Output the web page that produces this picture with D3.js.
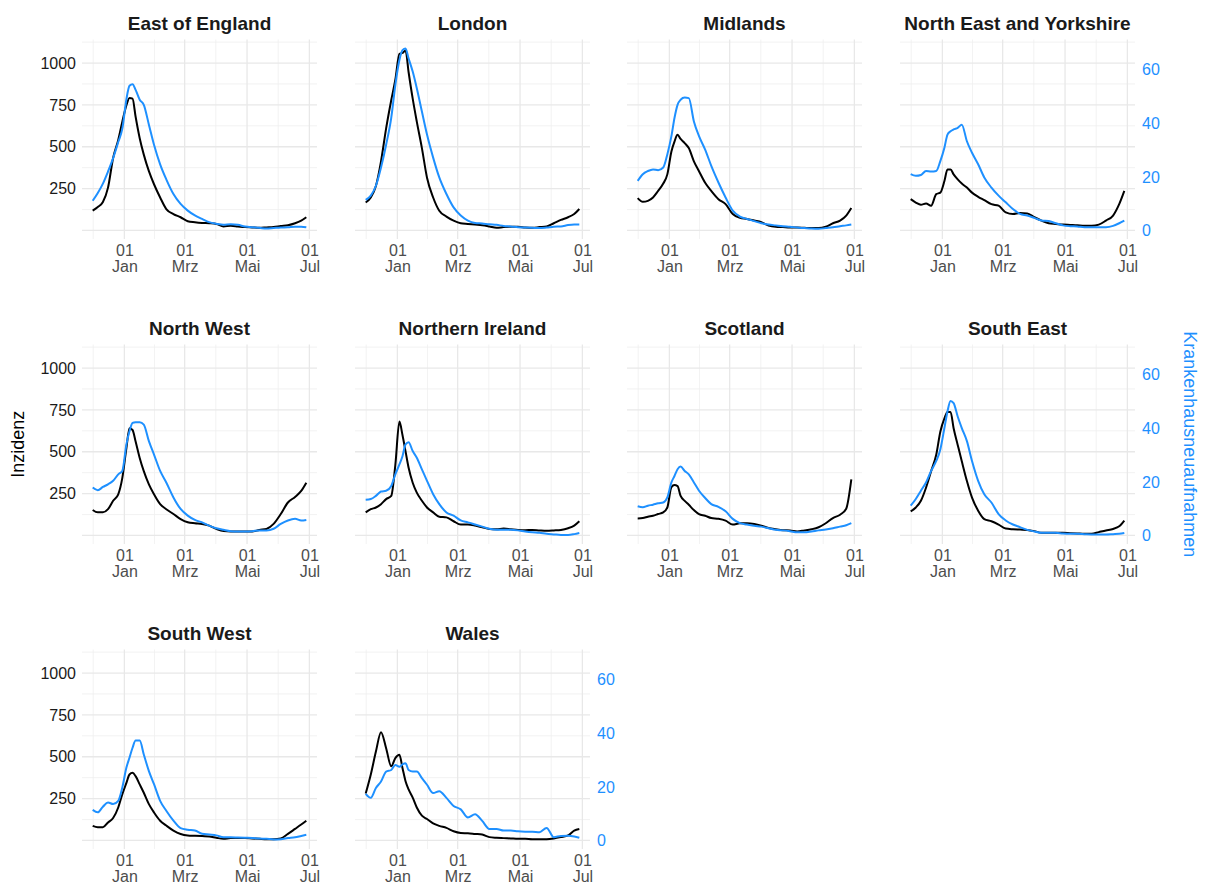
<!DOCTYPE html>
<html><head><meta charset="utf-8">
<script src="https://cdn.jsdelivr.net/npm/d3@7"></script>
<style>
body{margin:0;background:#fff;}
svg{display:block;font-family:"Liberation Sans",Arial,Helvetica,sans-serif;}
</style>
</head><body>
<svg id="chart" width="1205" height="884"></svg>
<script>
// ---------- DATA ----------
const regions = ["East of England","London","Midlands","North East and Yorkshire","North West","Northern Ireland","Scotland","South East","South West","Wales"];
const dates = ["2020-12-01","2020-12-06","2020-12-11","2020-12-16","2020-12-21","2020-12-26","2020-12-30","2021-01-03","2021-01-06","2021-01-09","2021-01-12","2021-01-16","2021-01-20","2021-01-25","2021-01-30","2021-02-05","2021-02-11","2021-02-18","2021-02-25","2021-03-04","2021-03-11","2021-03-18","2021-03-25","2021-04-01","2021-04-08","2021-04-15","2021-04-22","2021-04-29","2021-05-06","2021-05-13","2021-05-20","2021-05-27","2021-06-03","2021-06-10","2021-06-17","2021-06-23","2021-06-28"];

// Inzidenz (left axis)
const incEastOfEngland = [118,140,170,256,433,541,650,748,791,787,679,551,453,354,276,197,128,98,79,55,49,45,43,39,24,28,24,20,18,16,18,20,26,31,43,59,79];
const incLondon        = [167,197,266,413,610,778,900,1055,1060,1075,945,787,650,492,315,197,118,83,59,43,39,35,31,24,16,20,22,22,18,16,20,24,43,63,79,98,128];
const incMidlands      = [193,171,177,197,236,280,335,472,531,571,547,522,492,413,354,285,236,187,157,98,75,69,59,49,30,22,20,18,18,16,14,14,22,43,59,89,134];
const incNorthEastYork = [187,167,154,161,148,217,226,295,364,364,335,305,280,256,226,201,181,157,148,108,98,104,102,79,59,43,39,35,33,31,28,28,35,59,89,157,236];
const incNorthWest     = [152,138,138,157,207,246,344,522,640,630,561,463,384,305,246,187,157,128,98,79,73,69,59,39,26,24,24,24,24,33,39,69,128,197,230,266,315];
const incNorthIreland  = [138,157,167,187,217,236,420,680,600,502,404,315,256,207,167,138,112,108,85,65,65,59,49,39,37,41,37,33,31,33,30,28,30,33,43,59,85];
const incScotland      = [102,104,112,118,128,138,167,289,301,295,236,207,183,152,128,118,104,100,89,65,73,73,69,59,45,37,31,30,24,30,37,49,73,104,124,160,335];
const incSouthEast     = [144,167,207,285,384,482,620,699,738,738,640,541,443,325,226,148,98,85,65,41,37,35,33,26,16,16,16,16,14,12,10,10,20,30,39,55,89];
const incSouthWest     = [87,79,79,108,134,197,276,344,394,404,384,335,285,217,167,118,89,59,39,30,28,26,24,16,10,14,14,14,12,10,8,8,12,39,69,95,118];
const incWales         = [280,394,531,646,551,443,492,512,433,354,305,256,197,148,128,102,87,75,55,45,43,39,35,20,16,14,12,10,10,8,8,8,12,20,30,59,69];

// Krankenhausneuaufnahmen (right axis)
const hospEastOfEngland = [11.1,14,17.5,22,27,33,38,49,54,54.6,52.5,48.8,46.9,39.5,32,24.7,19.1,13.6,9.9,7.4,5.6,4.3,3.1,2.5,2.1,2.3,2.1,1.5,1.2,1.0,0.7,0.9,1.1,1.2,1.4,1.4,1.2];
const hospLondon        = [11.4,13,16.7,23.5,32,42,54.3,63.6,67.3,67.9,64.2,59.3,53.1,44.4,35.8,27.2,19.8,13.6,8.6,5.6,3.7,2.8,2.6,2.3,2.1,1.7,1.5,1.2,1.1,1.0,0.9,1.1,1.4,1.5,2.0,2.2,2.2];
const hospMidlands      = [18.5,21,22.2,22.8,22.5,23.5,28.4,35.2,42,46.9,48.8,49.6,49.4,40.7,35.2,30.2,24.1,17.9,12.3,7.4,5.2,4.3,3.5,2.7,2.2,1.9,1.6,1.4,1.1,0.9,0.7,0.6,0.9,1.2,1.6,1.9,2.2];
const hospNorthEastYork = [21,20.4,20.7,22.2,22,22.2,25.9,30.9,35.8,37,37.7,38.3,39.5,33.3,29,24.7,19.8,16,13,10.5,8,6.2,5.6,4.7,3.7,3.5,2.7,1.9,1.6,1.5,1.2,1.2,1.2,1.2,1.7,2.7,3.7];
const hospNorthWest     = [17.9,16.9,18.1,19.1,20.4,22.8,24.1,34,38.9,42,42.3,42.3,41.4,35.2,30.2,24.1,19.8,14.2,9.9,7.4,5.8,4.9,3.7,2.7,2.1,1.6,1.5,1.5,1.6,1.9,1.9,2.5,4.3,5.6,6.2,5.6,5.8];
const hospNorthIreland  = [13.3,13.6,14.8,16.4,16.7,18.5,22.8,26.5,29.6,34,34.8,31.5,29,24.7,20.4,15.4,11.7,8.6,7.4,5.6,4.9,4.1,3.3,2.5,2.1,2.1,2.1,1.9,1.5,1.2,1.0,0.6,0.4,0.2,0.2,0.5,0.9];
const hospScotland      = [10.9,10.5,11.1,11.5,12,12.3,14.2,19.8,22.2,24.7,25.7,24.1,22.8,19.8,16.7,14,11.7,10.7,9,6.2,4.6,4.1,3.6,3.3,2.7,2.1,1.9,1.6,1.2,1.2,1.5,1.9,2.2,2.7,3.3,3.8,4.6];
const hospSouthEast     = [11.1,13.6,16.7,19.8,24.1,27.8,32.1,40.1,46.3,50.2,49.4,44.4,40.1,35.2,27.8,20.4,15.4,12.3,8,5.6,4.1,3.1,2.1,1.5,1.0,1.0,1.0,0.7,0.6,0.6,0.5,0.4,0.4,0.4,0.5,0.6,0.9];
const hospSouthWest     = [11.4,10.5,12.6,14.2,13.6,14.8,19.8,27.2,30.9,34.6,37.3,37.3,32.1,25.9,21,14.8,11.1,7.4,4.6,4,3.7,2.5,2.2,1.9,1.2,1.2,1.1,1.0,0.9,0.7,0.6,0.4,0.5,0.9,1.2,1.7,2.1];
const hospWales         = [17.4,15.9,19.6,22,25.7,26.3,28.2,27.5,28.4,28.8,26.3,25.7,25.7,23.3,20.8,17.7,18.4,15.9,12.9,11.6,8.6,9.8,7.3,4.3,4.3,3.7,3.7,3.4,3.3,3.3,3.1,4.7,1.2,1.7,1.8,1.5,1.0];

const leftTicks  = [250, 500, 750, 1000];
const rightTicks = [0, 20, 40, 60];
const xBreaks    = ["2020-11-01","2021-01-01","2021-03-01","2021-05-01","2021-07-01"];
const monthsDE   = ["Jan","Feb","Mrz","Apr","Mai","Jun","Jul","Aug","Sep","Okt","Nov","Dez"];
const secFactor  = 16;

// ---------- TABLE ----------
const incidence = [incEastOfEngland,incLondon,incMidlands,incNorthEastYork,incNorthWest,incNorthIreland,incScotland,incSouthEast,incSouthWest,incWales];
const hospital  = [hospEastOfEngland,hospLondon,hospMidlands,hospNorthEastYork,hospNorthWest,hospNorthIreland,hospScotland,hospSouthEast,hospSouthWest,hospWales];

// ---------- LAYOUT ----------
const colX = [82, 355, 627, 900];
const rowY = [39.5, 344.5, 649.5];
const pw = 235, ph = 199.5;
const blue = "#1E90FF";

const parse = d3.timeParse("%Y-%m-%d");
const dts = dates.map(parse);
const span = dts[dts.length-1] - dts[0];
const x = d3.scaleTime()
  .domain([new Date(+dts[0] - 0.05*span), new Date(+dts[dts.length-1] + 0.05*span)])
  .range([0, pw]);

const allVals = incidence.flat().concat(hospital.flat().map(v => v*secFactor));
const ext = d3.extent(allVals);
const pad = (ext[1]-ext[0]) * 0.05;
const y = d3.scaleLinear().domain([ext[0]-pad, ext[1]+pad]).range([ph, 0]);
const y2 = d3.scaleLinear().domain(y.domain().map(v => v/secFactor)).range([ph, 0]);

const brk = xBreaks.map(parse);
const majorX = brk.slice(1);
const minorX = d3.pairs(brk).map(([a,b]) => new Date((+a + +b)/2));
const majorY = [0, 250, 500, 750, 1000];
const minorY = [125, 375, 625, 875, 1125].filter(v => v <= y.domain()[1]);

const svg = d3.select("#chart");
svg.append("rect").attr("width",1205).attr("height",884).attr("fill","#fff");

const lineInc = d3.line().x((d,i) => x(dts[i])).y(d => y(d)).curve(d3.curveMonotoneX);
const lineHosp = d3.line().x((d,i) => x(dts[i])).y(d => y2(d)).curve(d3.curveMonotoneX);

const lastInRow = [3, 7, 9];
const FONT = "Liberation Sans, Arial, sans-serif";

regions.forEach((name, i) => {
  const col = i % 4, row = Math.floor(i/4);
  const g = svg.append("g").attr("transform", `translate(${colX[col]},${rowY[row]})`);

  // grid
  const grid = g.append("g");
  grid.selectAll(".hmin").data(minorY).join("line")
    .attr("x1",0).attr("x2",pw).attr("y1",d=>y(d)).attr("y2",d=>y(d))
    .attr("stroke","#efefef").attr("stroke-width",0.8);
  grid.selectAll(".vmin").data(minorX).join("line")
    .attr("y1",0).attr("y2",ph).attr("x1",d=>x(d)).attr("x2",d=>x(d))
    .attr("stroke","#efefef").attr("stroke-width",0.8);
  grid.selectAll(".hmaj").data(majorY).join("line")
    .attr("x1",0).attr("x2",pw).attr("y1",d=>y(d)).attr("y2",d=>y(d))
    .attr("stroke","#e8e8e8").attr("stroke-width",1.3);
  grid.selectAll(".vmaj").data(majorX).join("line")
    .attr("y1",0).attr("y2",ph).attr("x1",d=>x(d)).attr("x2",d=>x(d))
    .attr("stroke","#e8e8e8").attr("stroke-width",1.3);

  // lines
  g.append("path").attr("d", lineInc(incidence[i]))
    .attr("fill","none").attr("stroke","#000").attr("stroke-width",2).attr("stroke-linejoin","round");
  g.append("path").attr("d", lineHosp(hospital[i]))
    .attr("fill","none").attr("stroke",blue).attr("stroke-width",2).attr("stroke-linejoin","round");

  // title
  g.append("text").attr("x", pw/2).attr("y", -10).attr("text-anchor","middle")
    .attr("font-size",19).attr("font-weight","bold").attr("fill","#1a1a1a").text(name);

  // x axis
  const fmtDay = d3.timeFormat("%d");
  const xa = g.append("g").attr("transform",`translate(0,${ph})`)
    .call(d3.axisBottom(x).tickValues(majorX).tickSize(0).tickFormat(fmtDay));
  xa.select(".domain").remove();
  xa.selectAll(".tick text").each(function(d){
    const t = d3.select(this);
    t.text(null).attr("dy",null).attr("y",null)
      .attr("fill","#4d4d4d").attr("font-size",16).attr("font-family",FONT);
    t.append("tspan").attr("x",0).attr("y",17).text(fmtDay(d));
    t.append("tspan").attr("x",0).attr("y",33).text(monthsDE[d.getMonth()]);
  });

  // left axis
  if (col === 0) {
    const ya = g.append("g").call(d3.axisLeft(y).tickValues(leftTicks).tickSize(0).tickPadding(6).tickFormat(d3.format("d")));
    ya.select(".domain").remove();
    ya.selectAll(".tick text").attr("fill","#1a1a1a").attr("font-size",16).attr("font-family",FONT);
  }
  // right axis
  if (lastInRow.includes(i)) {
    const ra = g.append("g").attr("transform",`translate(${pw},0)`)
      .call(d3.axisRight(y2).tickValues(rightTicks).tickSize(0).tickPadding(7).tickFormat(d3.format("d")));
    ra.select(".domain").remove();
    ra.selectAll(".tick text").attr("fill",blue).attr("font-size",16).attr("font-family",FONT);
  }
});

// axis titles
const midY = (rowY[0] + rowY[2] + ph) / 2;
svg.append("text").attr("transform",`translate(24,${midY}) rotate(-90)`)
  .attr("text-anchor","middle").attr("font-size",18).attr("fill","#000").text("Inzidenz");
svg.append("text").attr("transform",`translate(1184,${midY}) rotate(90)`)
  .attr("text-anchor","middle").attr("font-size",18).attr("fill",blue).text("Krankenhausneuaufnahmen");
</script>
</body></html>
